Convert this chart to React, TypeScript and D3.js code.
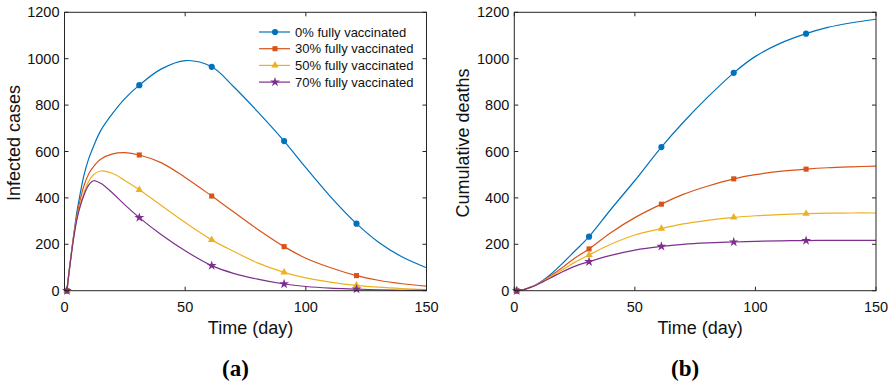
import React from "react";
import * as d3 from "d3";

// sampled days shared by all curves
const days = [1, 2, 3, 4, 5, 6, 8, 10, 12, 15, 20, 25, 31, 40, 50, 61, 70, 80, 91, 100, 110, 121, 130, 140, 150];
const markerDays = [1, 31, 61, 91, 121];

const seriesNames = ["0% fully vaccinated", "30% fully vaccinated", "50% fully vaccinated", "70% fully vaccinated"];
const colors = ["#0072BD", "#D95319", "#EDB120", "#7E2F8E"];

// infected cases (panel a)
const infected0 = [0, 90, 175, 255, 330, 390, 495, 568, 622, 690, 765, 828, 886, 955, 992, 965, 880, 772, 645, 530, 408, 289, 210, 145, 99];
const infected30 = [0, 90, 175, 250, 315, 368, 450, 503, 535, 567, 590, 595, 585, 552, 488, 408, 340, 265, 190, 140, 100, 65, 45, 30, 20];
const infected50 = [0, 90, 172, 245, 305, 350, 420, 470, 500, 516, 505, 475, 435, 368, 294, 219, 170, 120, 79, 55, 37, 23, 15, 9, 5];
const infected70 = [0, 90, 170, 240, 300, 345, 410, 455, 474, 463, 420, 370, 315, 242, 172, 108, 75, 50, 29, 18, 11, 7, 4, 2, 1];

// cumulative deaths (panel b)
const deaths0 = [0, 1, 3, 5, 8, 12, 20, 32, 45, 70, 118, 170, 233, 350, 475, 619, 725, 832, 939, 1010, 1065, 1108, 1135, 1155, 1170];
const deaths30 = [0, 1, 3, 5, 8, 12, 20, 31, 43, 64, 100, 140, 180, 250, 315, 373, 415, 450, 482, 500, 514, 524, 530, 534, 537];
const deaths50 = [0, 1, 3, 5, 8, 12, 19, 30, 41, 60, 90, 122, 154, 200, 240, 268, 288, 303, 316, 323, 328, 332, 334, 335, 335];
const deaths70 = [0, 1, 3, 5, 8, 12, 19, 29, 39, 55, 82, 105, 125, 152, 175, 191, 200, 206, 210, 213, 215, 216, 217, 217, 217];

const xTicks = [0, 50, 100, 150];
const yTicks = [0, 200, 400, 600, 800, 1000, 1200];

const symbols = [d3.symbolCircle, d3.symbolSquare, d3.symbolTriangle, d3.symbolStar];
const symbolSizes = [30, 26, 24, 30];

const axisColor = "#262626";
const font = "'Liberation Sans', Arial, Helvetica, sans-serif";

interface PanelProps {
  left: number;
  right: number;
  top: number;
  bottom: number;
  series: number[][];
  yLabel: string;
  yLabelX: number;
  tag: string;
  legend?: boolean;
}

function Panel({ left, right, top, bottom, series, yLabel, yLabelX, tag, legend }: PanelProps) {
  const x = d3.scaleLinear().domain([0, 150]).range([left, right]);
  const y = d3.scaleLinear().domain([0, 1200]).range([bottom, top]);
  const line = d3
    .line<number>()
    .x((_, i) => x(days[i]))
    .y((d) => y(d))
    .curve(d3.curveCatmullRom.alpha(0.5));
  const tickLen = 4;
  const cx = (left + right) / 2;

  return (
    <g>
      {series.map((vals, s) => (
        <g key={s}>
          <path d={line(vals) || ""} fill="none" stroke={colors[s]} strokeWidth={1.2} />
          {markerDays.map((md) => {
            const i = days.indexOf(md);
            return (
              <path
                key={md}
                transform={`translate(${x(md)},${y(vals[i])})`}
                d={d3.symbol().type(symbols[s]).size(symbolSizes[s])() || ""}
                fill={colors[s]}
              />
            );
          })}
        </g>
      ))}

      {/* box */}
      <rect x={left} y={top} width={right - left} height={bottom - top} fill="none" stroke={axisColor} strokeWidth={1} />

      {xTicks.map((t) => (
        <g key={"x" + t}>
          <line x1={x(t)} x2={x(t)} y1={bottom} y2={bottom - tickLen} stroke={axisColor} />
          <line x1={x(t)} x2={x(t)} y1={top} y2={top + tickLen} stroke={axisColor} />
          <text x={x(t)} y={bottom + 21} textAnchor="middle" fontSize={14.5} fontFamily={font} fill="#111">
            {t}
          </text>
        </g>
      ))}
      {yTicks.map((t) => (
        <g key={"y" + t}>
          <line x1={left} x2={left + tickLen} y1={y(t)} y2={y(t)} stroke={axisColor} />
          <line x1={right} x2={right - tickLen} y1={y(t)} y2={y(t)} stroke={axisColor} />
          <text x={left - 5} y={y(t) + 5} textAnchor="end" fontSize={14.5} fontFamily={font} fill="#111">
            {t}
          </text>
        </g>
      ))}

      <text x={cx + 5} y={334} textAnchor="middle" fontSize={18} fontFamily={font} fill="#111">
        Time (day)
      </text>
      <text
        transform={`translate(${yLabelX},143) rotate(-90)`}
        textAnchor="middle"
        fontSize={18}
        fontFamily={font}
        fill="#111"
      >
        {yLabel}
      </text>
      <text
        x={cx - 10}
        y={376}
        textAnchor="middle"
        fontSize={23}
        fontWeight="bold"
        fontFamily="'Liberation Serif', 'Times New Roman', serif"
        fill="#000"
      >
        {tag}
      </text>

      {legend &&
        seriesNames.map((name, s) => {
          const ly = 32 + s * 16.7;
          return (
            <g key={name}>
              <line x1={259} x2={290} y1={ly} y2={ly} stroke={colors[s]} strokeWidth={1.2} />
              <path
                transform={`translate(275,${ly})`}
                d={d3.symbol().type(symbols[s]).size(symbolSizes[s])() || ""}
                fill={colors[s]}
              />
              <text x={295} y={ly + 4.5} fontSize={13} fontFamily={font} fill="#111">
                {name}
              </text>
            </g>
          );
        })}
    </g>
  );
}

export default function App() {
  return (
    <div style={{ position: "absolute", left: 0, top: 0 }}>
      <svg width={893} height={384} style={{ display: "block", background: "#fff" }}>
        <Panel
          left={64.5}
          right={426.5}
          top={12.3}
          bottom={290.7}
          series={[infected0, infected30, infected50, infected70]}
          yLabel="Infected cases"
          yLabelX={20}
          tag="(a)"
          legend
        />
        <Panel
          left={514.3}
          right={876}
          top={12.3}
          bottom={290.7}
          series={[deaths0, deaths30, deaths50, deaths70]}
          yLabel="Cumulative deaths"
          yLabelX={469}
          tag="(b)"
        />
      </svg>
    </div>
  );
}
